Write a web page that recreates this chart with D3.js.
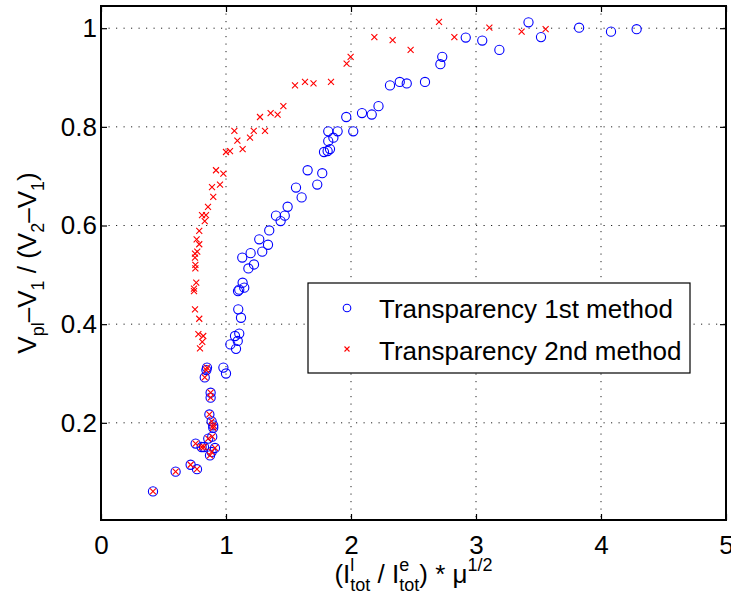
<!DOCTYPE html>
<html>
<head>
<meta charset="utf-8">
<script src="https://cdn.jsdelivr.net/npm/d3@7"></script>
<style>
  body { margin: 0; background: #fff; }
  text { font-family: "Liberation Sans", Arial, sans-serif; fill: #000; white-space: pre; }
</style>
</head>
<body>
<div id="chart"></div>
<script>
// data
var blueX = [0.416, 0.597, 0.717, 0.768, 0.757, 0.805, 0.824, 0.858, 0.872, 0.885, 0.912, 0.89, 0.898, 0.898, 0.885, 0.867, 0.877, 0.877, 0.83, 0.843, 0.848,
    0.979, 1.0, 1.035, 1.08, 1.094, 1.072, 1.106, 1.12, 1.098, 1.096, 1.106, 1.146, 1.133, 1.179, 1.224, 1.13, 1.197, 1.29, 1.336, 1.266, 1.346,
    1.437, 1.4, 1.47, 1.493, 1.605, 1.56, 1.73, 1.77, 1.653, 1.784, 1.813, 1.832, 1.818, 1.859, 1.818, 1.893, 2.018, 1.962, 2.088, 2.166, 2.22,
    2.312, 2.39, 2.446, 2.592, 2.715, 2.73, 2.918, 3.05, 3.187, 3.42, 3.52, 3.825, 4.08, 4.285];
var blueY = [0.061, 0.101, 0.115, 0.106, 0.158, 0.151, 0.151, 0.168, 0.134, 0.141, 0.149, 0.172, 0.19, 0.195, 0.203, 0.217, 0.251, 0.261, 0.292, 0.307, 0.312,
    0.312, 0.3, 0.359, 0.35, 0.366, 0.376, 0.381, 0.413, 0.43, 0.467, 0.47, 0.474, 0.484, 0.513, 0.521, 0.535, 0.544, 0.547, 0.561, 0.572, 0.59,
    0.609, 0.62, 0.62, 0.638, 0.657, 0.677, 0.683, 0.706, 0.712, 0.749, 0.751, 0.755, 0.771, 0.778, 0.791, 0.791, 0.791, 0.82, 0.828, 0.825, 0.842,
    0.884, 0.891, 0.888, 0.891, 0.927, 0.942, 0.981, 0.975, 0.956, 1.012, 0.982, 1.001, 0.993, 0.998];

var redX = [0.416, 0.597, 0.717, 0.768, 0.757, 0.805, 0.824, 0.858, 0.872, 0.885, 0.912, 0.89, 0.898, 0.898, 0.885, 0.867, 0.877, 0.877, 0.83, 0.843, 0.848,
    0.792, 0.81, 0.818, 0.779, 0.786, 0.752, 0.744, 0.744, 0.762, 0.755, 0.755, 0.752, 0.752, 0.77, 0.786, 0.765, 0.786, 0.83, 0.808, 0.84,
    0.856, 0.898, 0.888, 0.952, 0.979, 0.92, 1.0, 1.032, 1.133, 1.091, 1.192, 1.067, 1.222, 1.312, 1.272, 1.413, 1.357, 1.459, 1.552, 1.632,
    1.7, 1.84, 1.965, 1.997, 2.187, 2.333, 2.477, 2.704, 2.827, 3.107, 3.365, 3.557];
var redY = [0.061, 0.101, 0.115, 0.106, 0.158, 0.151, 0.151, 0.168, 0.134, 0.141, 0.149, 0.172, 0.19, 0.195, 0.203, 0.217, 0.251, 0.261, 0.292, 0.307, 0.312,
    0.351, 0.364, 0.376, 0.38, 0.411, 0.43, 0.467, 0.472, 0.484, 0.513, 0.52, 0.535, 0.543, 0.547, 0.562, 0.572, 0.589, 0.609, 0.621, 0.621,
    0.638, 0.658, 0.678, 0.683, 0.705, 0.712, 0.749, 0.751, 0.755, 0.772, 0.778, 0.792, 0.792, 0.792, 0.82, 0.825, 0.828, 0.842, 0.884, 0.891,
    0.888, 0.891, 0.928, 0.942, 0.982, 0.976, 0.956, 1.013, 0.982, 1.001, 0.993, 0.998];

var xTicks = [0, 1, 2, 3, 4, 5];
var yTicks = [0.2, 0.4, 0.6, 0.8, 1];
var legendNames = ["Transparency 1st method", "Transparency 2nd method"];

var W = 731, H = 597;
var pLeft = 101, pRight = 726, pTop = 6, pBottom = 520;

var svg = d3.select("#chart").append("svg")
    .attr("width", W)
    .attr("height", H);

var x = d3.scaleLinear().domain([0, 5]).range([pLeft, pRight]);
var y = d3.scaleLinear().domain([0.003, 1.045]).range([pBottom, pTop]);

// dotted grid
var grid = svg.append("g");
grid.selectAll("line.v")
    .data(xTicks.slice(1, -1))
    .enter().append("line").attr("class", "v")
    .attr("x1", d => x(d)).attr("x2", d => x(d))
    .attr("y1", pTop).attr("y2", pBottom);
grid.selectAll("line.h")
    .data(yTicks)
    .enter().append("line").attr("class", "h")
    .attr("x1", pLeft).attr("x2", pRight)
    .attr("y1", d => y(d)).attr("y2", d => y(d));
grid.selectAll("line")
    .attr("stroke", "#222")
    .attr("stroke-width", 1)
    .attr("stroke-dasharray", "1.2,6.3");

// points
svg.append("g").selectAll("circle")
    .data(blueX.map((d, i) => [d, blueY[i]]))
    .enter().append("circle")
    .attr("cx", d => x(d[0]))
    .attr("cy", d => y(d[1]))
    .attr("r", 4.6)
    .attr("fill", "none")
    .attr("stroke", "#0000ff")
    .attr("stroke-width", 1.1);

function cross(g, cx, cy, s) {
    g.append("path")
        .attr("d", "M" + (cx - s) + "," + (cy - s) + "L" + (cx + s) + "," + (cy + s) +
                   "M" + (cx - s) + "," + (cy + s) + "L" + (cx + s) + "," + (cy - s))
        .attr("stroke", "#ff0000")
        .attr("stroke-width", 1.1)
        .attr("fill", "none");
}
var reds = svg.append("g");
redX.forEach(function (d, i) { cross(reds, x(d), y(redY[i]), 3); });

// axes, ticks inward
var ax = svg.append("g").attr("class", "axes");
ax.append("g").attr("transform", "translate(0," + pBottom + ")")
    .call(d3.axisBottom(x).tickValues(xTicks).tickSize(-6).tickPadding(16).tickFormat(d3.format("d")));
ax.append("g").attr("transform", "translate(0," + pTop + ")")
    .call(d3.axisTop(x).tickValues(xTicks).tickSize(-6).tickFormat(""));
ax.append("g").attr("transform", "translate(" + pLeft + ",0)")
    .call(d3.axisLeft(y).tickValues(yTicks).tickSize(-6).tickPadding(4).tickFormat(d => d === 1 ? "1" : d3.format(".1f")(d)));
ax.append("g").attr("transform", "translate(" + pRight + ",0)")
    .call(d3.axisRight(y).tickValues(yTicks).tickSize(-6).tickFormat(""));
ax.selectAll(".domain").remove();
ax.selectAll(".tick line").attr("stroke", "#000").attr("stroke-width", 1.2);
ax.selectAll("text").style("font-size", "26px").attr("fill", "#000")
    .attr("font-family", "Liberation Sans, Arial, sans-serif");

svg.append("rect")
    .attr("x", pLeft).attr("y", pTop)
    .attr("width", pRight - pLeft).attr("height", pBottom - pTop)
    .attr("fill", "none")
    .attr("stroke", "#000")
    .attr("stroke-width", 2);

// rich label helper: segments with size and baseline shift; "stack" puts sup/sub at same x
function richLabel(g, segs) {
    var cur = 0, stackStart = 0, stackW = 0;
    segs.forEach(function (s) {
        var t = g.append("text")
            .attr("y", s.b || 0)
            .style("font-size", s.s + "px")
            .text(s.t);
        if (s.stack === "a") { stackStart = cur; }
        t.attr("x", s.stack ? stackStart : cur);
        var w = t.node().getComputedTextLength();
        if (s.stack === "a") { stackW = w; }
        else if (s.stack === "b") { cur = stackStart + Math.max(stackW, w); }
        else { cur += w; }
    });
    return cur;
}

// x label
var xl = svg.append("g");
var xw = richLabel(xl, [
    { t: "(I", s: 26 },
    { t: "l", s: 18, b: -12, stack: "a" },
    { t: "tot", s: 18, b: 8, stack: "b" },
    { t: "\u00a0/\u00a0I", s: 26 },
    { t: "e", s: 18, b: -12, stack: "a" },
    { t: "tot", s: 18, b: 8, stack: "b" },
    { t: ")\u00a0*\u00a0\u03bc", s: 26 },
    { t: "1/2", s: 18, b: -12 }
]);
xl.attr("transform", "translate(" + ((pLeft + pRight) / 2 - xw / 2) + ",583)");

// y label
var yl = svg.append("g");
var yw = richLabel(yl, [
    { t: "V", s: 26 },
    { t: "pl", s: 18, b: 8 },
    { t: "\u2013V", s: 26 },
    { t: "1", s: 18, b: 8 },
    { t: "\u00a0/\u00a0(V", s: 26 },
    { t: "2", s: 18, b: 8 },
    { t: "\u2013V", s: 26 },
    { t: "1", s: 18, b: 8 },
    { t: ")", s: 26 }
]);
yl.attr("transform", "translate(36," + ((pTop + pBottom) / 2 + yw / 2) + ") rotate(-90)");

// legend
var lg = svg.append("g");
lg.append("rect")
    .attr("x", 308).attr("y", 283)
    .attr("width", 382).attr("height", 90)
    .attr("fill", "#fff")
    .attr("stroke", "#000")
    .attr("stroke-width", 1.2);
lg.append("circle")
    .attr("cx", 347).attr("cy", 308).attr("r", 3.8)
    .attr("fill", "none").attr("stroke", "#0000ff").attr("stroke-width", 1.1);
cross(lg, 347, 349, 2.5);
lg.selectAll("text.leg")
    .data(legendNames)
    .enter().append("text")
    .attr("x", 379)
    .attr("y", (d, i) => 318 + i * 42)
    .style("font-size", "26px")
    .text(d => d);
</script>
</body>
</html>
